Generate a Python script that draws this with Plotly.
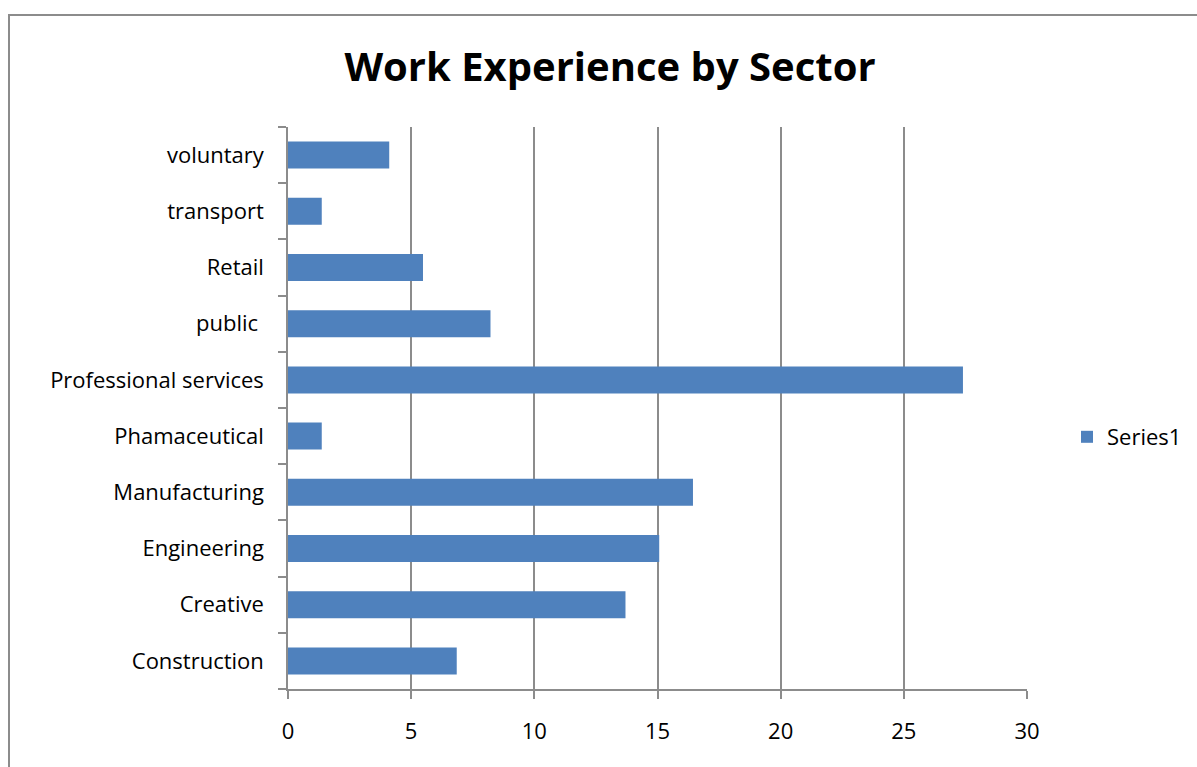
import plotly.graph_objects as go

categories = ["Construction", "Creative", "Engineering", "Manufacturing", "Phamaceutical",
              "Professional services", "public ", "Retail", "transport", "voluntary"]
values = [6.85, 13.70, 15.07, 16.44, 1.37, 27.40, 8.22, 5.48, 1.37, 4.11]
x_ticks = [0, 5, 10, 15, 20, 25, 30]

W, H = 1197, 767
L, R, T, B = 288, 1027, 127, 689
pw, ph = R - L, B - T

fig = go.Figure()
fig.add_trace(go.Bar(
    y=categories, x=values, orientation="h", name="Series1",
    marker=dict(color="#4F81BD", line=dict(width=0)), width=0.48,
))

font = "Open Sans, Liberation Sans, sans-serif"
fig.update_layout(
    width=W, height=H,
    margin=dict(l=L, r=W - R, t=T, b=H - B, pad=0, autoexpand=False),
    paper_bgcolor="white", plot_bgcolor="white",
    title=dict(text="<b>Work Experience by Sector</b>", x=610 / W, xanchor="center",
               y=1 - 67 / H, yanchor="middle", font=dict(family=font, size=40, color="black")),
    font=dict(family=font, size=22, color="black"),
    showlegend=True,
    legend=dict(x=(1067 - L) / pw, xanchor="left", y=(B - 437) / ph, yanchor="middle",
                font=dict(size=22), bgcolor="rgba(0,0,0,0)", itemwidth=30),
    xaxis=dict(range=[0, 30], tickvals=x_ticks, showgrid=True, gridcolor="#8C8C8C", gridwidth=1.5,
               showline=True, linecolor="#8C8C8C", linewidth=1.5, ticks="outside", ticklen=8,
               tickcolor="#8C8C8C", tickwidth=1.5, zeroline=False, fixedrange=True,
               tickfont=dict(size=22), ticklabelstandoff=14),
    yaxis=dict(categoryorder="array", categoryarray=categories, showgrid=False,
               showline=True, linecolor="#8C8C8C", linewidth=1.5, ticks="outside", ticklen=8,
               tickcolor="#8C8C8C", tickwidth=1.5, tickson="boundaries",
               tickfont=dict(size=22), ticklabelstandoff=18, range=[-0.5, 9.5]),
    bargap=0.52,
)

fig.add_shape(type="rect", xref="paper", yref="paper",
              x0=(9 - L) / pw, x1=(1300 - L) / pw, y0=(B - 900) / ph, y1=(B - 15) / ph,
              line=dict(color="#8C8C8C", width=2), fillcolor="rgba(0,0,0,0)", layer="below")

fig.write_html("out.html")
